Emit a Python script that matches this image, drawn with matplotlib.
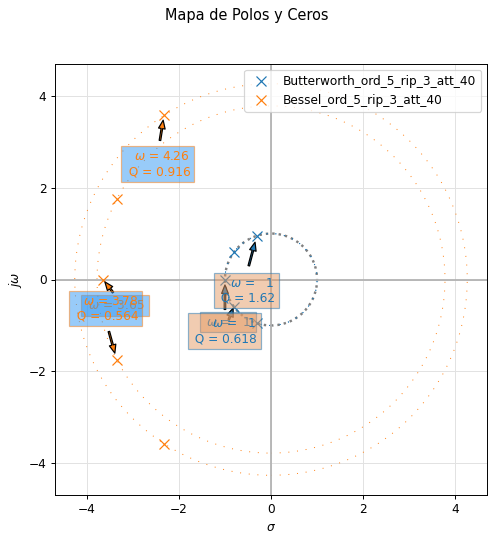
import numpy as np
import matplotlib.pyplot as plt
from matplotlib import patches

# polos de cada filtro (parte real / imaginaria)
bw_re = [-0.309, -0.809, -1.0, -0.809, -0.309]
bw_im = [0.951, 0.588, 0.0, -0.588, -0.951]
bs_re = [-2.3247, -3.3520, -3.6467, -3.3520, -2.3247]
bs_im = [3.5710, 1.7427, 0.0, -1.7427, -3.5710]

labels = ['Butterworth_ord_5_rip_3_att_40', 'Bessel_ord_5_rip_3_att_40']

DPI = 87
fig = plt.figure(figsize=(494 / DPI, 541 / DPI), dpi=DPI)
ax = fig.add_axes([55 / 494, 46 / 541, 432 / 494, 431 / 541])
fig.suptitle('Mapa de Polos y Ceros', y=0.985)

ax.grid(True, color='#e2e2e2', lw=0.8)
ax.set_axisbelow(True)
ax.axvline(0, color='0.7')
ax.axhline(0, color='0.7')
ax.add_patch(patches.Circle((0, 0), radius=1, fill=False, color='gray',
                            ls='dotted', lw=2))

series = [
    dict(re=bw_re, im=bw_im, color='C0', face='#e59b65',
         # polo anotado, offset texto (pt), offset cola flecha (pt), shrink punta
         pairs=[(0, (-8.6, -45.3), (-6.6, -24.8), 5.5),
                (3, (-7.9, -20.3), (-4.1, -10.8), 1.5)],
         real=(2, (2.5, -35.2), (0, -24.8), 4.5)),
    dict(re=bs_re, im=bs_im, color='C1', face='#3399f5',
         pairs=[(0, (-5.3, -40.3), (-3.3, -20.7), 4.0),
                (3, (-8.9, 42.2), (-6.4, 23.2), 5.5)],
         real=(2, (9.9, -21.5), (8.3, -10.8), 2.5)),
]

for s, lab in zip(series, labels):
    ax.plot(s['re'], s['im'], 'x', ms=9, color=s['color'], label=lab,
            zorder=2.5)
    for idx, _, _, _ in s['pairs']:
        w0 = np.hypot(s['re'][idx], s['im'][idx])
        ax.add_patch(patches.Circle((0, 0), radius=w0, fill=False,
                                    color=s['color'], ls=(0, (1, 8)), lw=0.8))

arrow_style = 'simple,head_length=7,head_width=5.5,tail_width=1.3'

# flechas
for s in series:
    for idx, _, tail, sb in s['pairs'] + [s['real']]:
        ax.annotate('', xy=(s['re'][idx], s['im'][idx]), xytext=tail,
                    textcoords='offset points', zorder=3,
                    arrowprops=dict(arrowstyle=arrow_style, mutation_scale=1,
                                    fc=s['color'], ec='k', lw=1,
                                    shrinkA=0, shrinkB=sb))

# cajas de polos reales
for s in series:
    idx, off, _, _ = s['real']
    w0 = abs(s['re'][idx])
    ax.annotate(' $\\omega$ = {:3.3g} '.format(w0),
                xy=(s['re'][idx], s['im'][idx]), xytext=off,
                textcoords='offset points', ha='center', va='center',
                color=s['color'], zorder=4,
                bbox=dict(boxstyle='square,pad=0.3', fc=s['face'],
                          ec=s['color'], alpha=0.5))

# cajas de pares complejos
for s in series:
    for idx, off, _, _ in s['pairs']:
        re, im = s['re'][idx], s['im'][idx]
        w0 = np.hypot(re, im)
        q = w0 / (2 * abs(re))
        ax.annotate('$\\omega$ = {:3.3g} \n Q = {:3.3g}'.format(w0, q),
                    xy=(re, im), xytext=off, textcoords='offset points',
                    ha='center', va='center', multialignment='right',
                    color=s['color'], zorder=4,
                    bbox=dict(boxstyle='square,pad=0.3', fc=s['face'],
                              ec=s['color'], alpha=0.5))

lim = 4.69
ax.set_xlim(-lim, lim)
ax.set_ylim(-lim, lim)
ax.set_xticks([-4, -2, 0, 2, 4])
ax.set_yticks([-4, -2, 0, 2, 4])
ax.set_xlabel('$\\sigma$')
ax.set_ylabel('$j\\omega$')
ax.legend(loc='upper right')

fig.savefig('out.png', dpi=DPI)
